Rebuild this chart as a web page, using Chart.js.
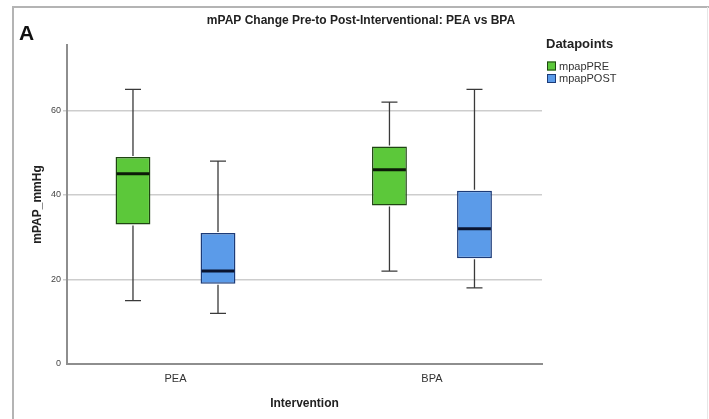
<!DOCTYPE html>
<html>
<head>
<meta charset="utf-8">
<script src="https://cdn.jsdelivr.net/npm/chart.js@4"></script>
<style>
  html, body { margin: 0; padding: 0; background: #fff; }
  #wrap { position: relative; width: 709px; height: 419px; }
</style>
</head>
<body>
<div id="wrap"><canvas id="chart" width="709" height="419"></canvas></div>
<script>
// Interventions on the x axis
const categories = ['PEA', 'BPA'];
const seriesNames = ['mpapPRE', 'mpapPOST'];

// Five-number summaries of mPAP (mmHg), one entry per intervention
const preMin    = [15, 22];
const preQ1     = [33, 37.5];
const preMedian = [45, 46];
const preQ3     = [49, 51.5];
const preMax    = [65, 62];

const postMin    = [12, 18];
const postQ1     = [19, 25];
const postMedian = [22, 32];
const postQ3     = [31, 41];
const postMax    = [48, 65];

const yTicks = [0, 20, 40, 60];

const chartTitle = 'mPAP Change Pre-to Post-Interventional: PEA vs BPA';
const panelLabel = 'A';
const legendTitle = 'Datapoints';
const xTitle = 'Intervention';
const yTitle = 'mPAP_mmHg';

const FONT = "'Liberation Sans', Arial, sans-serif";

function boxData(q1, q3) {
  return categories.map((c, i) => ({ x: i, y: [q1[i], q3[i]] }));
}

// Whiskers, caps and medians drawn on top of the floating-bar boxes
const boxplotParts = {
  id: 'boxplotParts',
  afterDatasetsDraw(chart) {
    const ctx = chart.ctx;
    const y = chart.scales.y;
    chart.data.datasets.forEach((ds, di) => {
      const meta = chart.getDatasetMeta(di);
      meta.data.forEach((bar, i) => {
        const x = bar.x;
        const half = bar.width / 2;
        const capHalf = 8;
        const pMin = y.getPixelForValue(ds.whiskerMin[i]);
        const pMax = y.getPixelForValue(ds.whiskerMax[i]);
        const pQ1 = y.getPixelForValue(ds.q1[i]);
        const pQ3 = y.getPixelForValue(ds.q3[i]);
        const pMed = y.getPixelForValue(ds.median[i]);
        ctx.save();
        ctx.strokeStyle = '#3a3a3a';
        ctx.lineWidth = 1.3;
        ctx.beginPath();
        ctx.moveTo(x, pQ3 - 1); ctx.lineTo(x, pMax);
        ctx.moveTo(x, pQ1 + 1); ctx.lineTo(x, pMin);
        ctx.moveTo(x - capHalf, pMax); ctx.lineTo(x + capHalf, pMax);
        ctx.moveTo(x - capHalf, pMin); ctx.lineTo(x + capHalf, pMin);
        ctx.stroke();
        ctx.strokeStyle = ds.medianColor;
        ctx.lineWidth = 3;
        ctx.beginPath();
        ctx.moveTo(x - half + 1, pMed); ctx.lineTo(x + half - 1, pMed);
        ctx.stroke();
        ctx.restore();
      });
    });
  }
};

// Background, outer frame, panel letter and legend
const decorations = {
  id: 'decorations',
  beforeDraw(chart) {
    const ctx = chart.ctx;
    ctx.save();
    ctx.fillStyle = '#ffffff';
    ctx.fillRect(0, 0, chart.width, chart.height);
    ctx.strokeStyle = '#b4b4b4';
    ctx.lineWidth = 2;
    ctx.beginPath();
    ctx.moveTo(13, 419); ctx.lineTo(13, 7); ctx.lineTo(709, 7);
    ctx.stroke();
    ctx.strokeStyle = '#e6e6e6';
    ctx.lineWidth = 1;
    ctx.beginPath();
    ctx.moveTo(707.5, 7); ctx.lineTo(707.5, 419);
    ctx.stroke();
    ctx.restore();
  },
  afterDraw(chart) {
    const ctx = chart.ctx;
    ctx.save();
    ctx.fillStyle = '#111';
    ctx.font = 'bold 21px ' + FONT;
    ctx.textBaseline = 'alphabetic';
    ctx.textAlign = 'left';
    ctx.fillText(panelLabel, 19, 40);

    ctx.font = 'bold 13px ' + FONT;
    ctx.textBaseline = 'middle';
    ctx.fillStyle = '#222';
    ctx.fillText(legendTitle, 546, 44);

    ctx.font = '11px ' + FONT;
    chart.data.datasets.forEach((ds, i) => {
      const yc = 66 + 12.5 * i;
      ctx.fillStyle = ds.backgroundColor;
      ctx.fillRect(547, yc - 4.5, 9, 9);
      ctx.strokeStyle = ds.borderColor;
      ctx.lineWidth = 1;
      ctx.strokeRect(547.5, yc - 4, 8, 8);
      ctx.fillStyle = '#333';
      ctx.fillText(ds.label, 559, yc + 0.5);
    });
    ctx.restore();
  }
};

const datasets = [
  {
    label: seriesNames[0],
    data: boxData(preQ1, preQ3),
    q1: preQ1, q3: preQ3, median: preMedian, whiskerMin: preMin, whiskerMax: preMax,
    backgroundColor: '#5cc83a',
    borderColor: '#1f4512',
    medianColor: '#0c1a08',
    borderWidth: 1.5,
    borderSkipped: false,
    categoryPercentage: 0.663,
    barPercentage: 0.41
  },
  {
    label: seriesNames[1],
    data: boxData(postQ1, postQ3),
    q1: postQ1, q3: postQ3, median: postMedian, whiskerMin: postMin, whiskerMax: postMax,
    backgroundColor: '#5b9be9',
    borderColor: '#1c3b78',
    medianColor: '#0a1430',
    borderWidth: 1.5,
    borderSkipped: false,
    categoryPercentage: 0.663,
    barPercentage: 0.41
  }
];

new Chart(document.getElementById('chart'), {
  type: 'bar',
  data: { datasets },
  options: {
    responsive: false,
    animation: false,
    devicePixelRatio: 1,
    layout: { padding: { left: 13, right: 0, top: 0, bottom: 0 } },
    plugins: {
      legend: { display: false },
      tooltip: { enabled: false },
      title: {
        display: true,
        text: chartTitle,
        color: '#222',
        font: { family: FONT, size: 12, weight: 'bold' },
        padding: { top: 13, bottom: 17.6 }
      }
    },
    scales: {
      x: {
        type: 'linear',
        offset: false,
        min: -0.423,
        max: 1.429,
        afterBuildTicks: s => { s.ticks = categories.map((c, i) => ({ value: i })); },
        afterFit: s => { s.height = 55; },
        ticks: {
          callback: v => categories[v],
          color: '#333',
          font: { family: FONT, size: 11 },
          padding: 8,
          autoSkip: false,
          maxRotation: 0
        },
        grid: { display: false, drawTicks: false },
        border: { display: true, color: '#8e8e8e', width: 2 },
        title: {
          display: true,
          text: xTitle,
          color: '#222',
          font: { family: FONT, size: 12, weight: 'bold' },
          padding: { top: 0, bottom: 8 }
        }
      },
      y: {
        min: 0,
        max: 75.5,
        afterBuildTicks: s => { s.ticks = yTicks.map(v => ({ value: v })); },
        afterFit: s => { s.width = 54; },
        ticks: {
          color: '#444',
          font: { family: FONT, size: 9 },
          padding: 2
        },
        grid: {
          color: c => (c.tick && c.tick.value === 0 ? 'rgba(0,0,0,0)' : '#cdcdcd'),
          lineWidth: 1.5,
          tickLength: 4
        },
        border: { display: true, color: '#8e8e8e', width: 2 },
        title: {
          display: true,
          text: yTitle,
          color: '#222',
          font: { family: FONT, size: 12, weight: 'bold' },
          padding: { top: 17, bottom: 0 }
        }
      },
      legendSpace: {
        type: 'linear',
        axis: 'y',
        position: 'right',
        display: true,
        afterFit: s => { s.width = 167; },
        ticks: { display: false },
        grid: { display: false },
        border: { display: false }
      }
    }
  },
  plugins: [boxplotParts, decorations]
});
</script>
</body>
</html>
